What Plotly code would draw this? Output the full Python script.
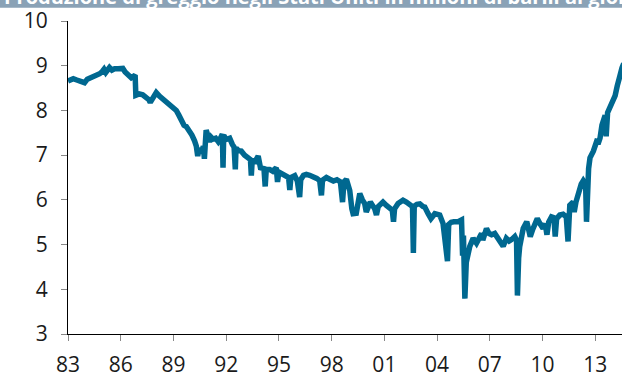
import plotly.graph_objects as go

# Decimal year positions and US crude oil production (million barrels per day)
years = [
    1983.00, 1983.15, 1983.30, 1983.50, 1983.70, 1983.94, 1984.10, 1984.35, 1984.60, 1984.80,
    1984.95, 1985.05, 1985.15, 1985.25, 1985.36, 1985.50, 1985.65, 1985.85, 1986.00, 1986.12,
    1986.25, 1986.40, 1986.60, 1986.75, 1986.82, 1986.86, 1987.05, 1987.25, 1987.45, 1987.60,
    1987.68, 1987.80, 1988.02, 1988.20, 1988.40, 1988.60, 1988.78, 1989.00, 1989.16, 1989.30,
    1989.44, 1989.60, 1989.73, 1989.90, 1990.05, 1990.20, 1990.30, 1990.38, 1990.45, 1990.58,
    1990.70, 1990.76, 1990.86, 1990.95, 1991.05, 1991.15, 1991.25, 1991.40, 1991.55, 1991.65,
    1991.78, 1991.82, 1991.86, 1992.00, 1992.20, 1992.35, 1992.45, 1992.52, 1992.56, 1992.70,
    1992.86, 1993.05, 1993.20, 1993.38, 1993.43, 1993.48, 1993.65, 1993.82, 1993.95, 1994.15,
    1994.22, 1994.28, 1994.47, 1994.65, 1994.85, 1994.92, 1995.00, 1995.20, 1995.40, 1995.55,
    1995.62, 1995.68, 1995.90, 1996.05, 1996.18, 1996.24, 1996.40, 1996.56, 1996.75, 1996.95,
    1997.15, 1997.32, 1997.42, 1997.48, 1997.70, 1997.89, 1998.10, 1998.30, 1998.50, 1998.62,
    1998.70, 1998.84, 1999.03, 1999.15, 1999.22, 1999.40, 1999.60, 1999.75, 1999.88, 1999.97,
    2000.10, 2000.20, 2000.45, 2000.55, 2000.65, 2000.92, 2001.10, 2001.30, 2001.45, 2001.52,
    2001.58, 2001.78, 2002.06, 2002.25, 2002.45, 2002.60, 2002.65, 2002.70, 2002.85, 2003.02,
    2003.20, 2003.30, 2003.49, 2003.65, 2003.87, 2004.15, 2004.34, 2004.45, 2004.59, 2004.66,
    2004.80, 2004.95, 2005.20, 2005.39, 2005.45, 2005.50, 2005.58, 2005.66, 2005.77, 2005.86,
    2006.05, 2006.24, 2006.40, 2006.53, 2006.60, 2006.81, 2006.95, 2007.10, 2007.28, 2007.45,
    2007.57, 2007.76, 2007.94, 2008.10, 2008.23, 2008.42, 2008.52, 2008.57, 2008.64, 2008.70,
    2008.90, 2009.10, 2009.20, 2009.30, 2009.45, 2009.57, 2009.70, 2009.85, 2010.03, 2010.15,
    2010.25, 2010.35, 2010.51, 2010.65, 2010.72, 2010.80, 2010.98, 2011.17, 2011.35, 2011.45,
    2011.50, 2011.55, 2011.74, 2011.80, 2011.90, 2012.03, 2012.20, 2012.32, 2012.45, 2012.50,
    2012.56, 2012.62, 2012.70, 2012.89, 2013.08, 2013.20, 2013.27, 2013.38, 2013.56, 2013.62,
    2013.70, 2013.85, 2014.00, 2014.13, 2014.25, 2014.32, 2014.40, 2014.52, 2014.62,
]
production = [
    8.66, 8.70, 8.71, 8.68, 8.66, 8.62, 8.70, 8.74, 8.78, 8.82,
    8.87, 8.92, 8.85, 8.93, 8.96, 8.90, 8.93, 8.93, 8.94, 8.94,
    8.86, 8.80, 8.73, 8.77, 8.79, 8.34, 8.37, 8.35, 8.29, 8.24,
    8.18, 8.28, 8.40, 8.32, 8.26, 8.20, 8.15, 8.06, 8.00, 7.90,
    7.78, 7.67, 7.64, 7.55, 7.45, 7.32, 7.20, 6.98, 7.15, 7.05,
    7.20, 6.92, 7.56, 7.45, 7.30, 7.40, 7.36, 7.38, 7.30, 7.36,
    7.47, 6.72, 7.44, 7.35, 7.38, 7.24, 7.18, 6.68, 7.16, 7.10,
    7.09, 7.00, 6.94, 6.90, 6.54, 6.88, 6.86, 6.98, 6.72, 6.70,
    6.30, 6.68, 6.68, 6.64, 6.72, 6.40, 6.62, 6.58, 6.55, 6.50,
    6.22, 6.50, 6.54, 6.42, 6.06, 6.45, 6.55, 6.57, 6.55, 6.53,
    6.48, 6.43, 6.10, 6.44, 6.50, 6.46, 6.42, 6.45, 6.40, 5.95,
    6.40, 6.46, 6.21, 5.80, 5.69, 5.70, 6.14, 6.00, 5.92, 5.73,
    5.92, 5.95, 5.80, 5.66, 5.85, 5.95, 5.88, 5.82, 5.77, 5.51,
    5.80, 5.92, 5.99, 5.95, 5.88, 5.85, 4.81, 5.86, 5.90, 5.91,
    5.85, 5.84, 5.69, 5.58, 5.69, 5.66, 5.47, 5.11, 4.63, 5.45,
    5.50, 5.51, 5.51, 5.55, 4.75, 5.20, 3.79, 4.60, 4.81, 4.96,
    5.14, 5.03, 5.15, 5.25, 5.10, 5.36, 5.25, 5.22, 5.25, 5.15,
    5.11, 4.96, 5.14, 5.08, 5.11, 5.18, 5.10, 3.86, 4.70, 4.96,
    5.36, 5.51, 5.35, 5.18, 5.35, 5.47, 5.58, 5.47, 5.36, 5.47,
    5.22, 5.50, 5.62, 5.60, 5.18, 5.58, 5.66, 5.68, 5.62, 5.07,
    5.70, 5.88, 5.95, 5.73, 5.95, 6.14, 6.35, 6.43, 6.35, 5.51,
    6.50, 6.70, 6.94, 7.09, 7.31, 7.30, 7.38, 7.67, 7.89, 7.42,
    7.95, 8.11, 8.25, 8.33, 8.55, 8.62, 8.77, 8.95, 9.05,
]

x_tickvals = [1983, 1986, 1989, 1992, 1995, 1998, 2001, 2004, 2007, 2010, 2013]
x_ticktext = ["83", "86", "89", "92", "95", "98", "01", "04", "07", "10", "13"]
y_tickvals = [3, 4, 5, 6, 7, 8, 9, 10]

title_text = "Produzione di greggio negli Stati Uniti in milioni di barili al giorno"

FONT = "Open Sans"
TICK_SIZE = 21

fig = go.Figure()
fig.add_trace(go.Scatter(
    x=years, y=production, mode="lines",
    line=dict(color="#006890", width=5.5, shape="linear"),
    hoverinfo="skip", showlegend=False,
))

H_PLOT = 378 - 21 - 39
W_PLOT = 622 - 68

fig.update_layout(
    width=622, height=378,
    margin=dict(l=68, r=0, t=21, b=39, pad=0),
    paper_bgcolor="white", plot_bgcolor="white",
    font=dict(family=FONT, size=TICK_SIZE, color="#1a1a1a"),
    xaxis=dict(
        range=[1983, 2014.52], tickvals=x_tickvals, ticktext=x_ticktext,
        showgrid=False, zeroline=False, showline=True, linecolor="black", linewidth=1.3,
        ticks="outside", ticklen=6, tickcolor="#888888", tickwidth=1,
        ticklabelstandoff=6,
        tickfont=dict(family=FONT, size=TICK_SIZE, color="#1a1a1a"),
    ),
    yaxis=dict(
        range=[3, 10], tickvals=y_tickvals,
        showgrid=False, zeroline=False, showline=True, linecolor="black", linewidth=1.3,
        ticks="outside", ticklen=6, tickcolor="#888888", tickwidth=1,
        ticklabelstandoff=9,
        tickfont=dict(family=FONT, size=TICK_SIZE, color="#1a1a1a"),
    ),
    shapes=[dict(
        type="rect", xref="paper", yref="paper",
        x0=-68 / W_PLOT, x1=1.0, y0=1 + (21 - 7.5) / H_PLOT, y1=1 + 30 / H_PLOT,
        fillcolor="#8aa2b6", line=dict(width=0), layer="above",
    )],
    annotations=[dict(
        text="<b>" + title_text + "</b>", xref="paper", yref="paper",
        x=-66 / W_PLOT, y=1 + 9 / H_PLOT, xanchor="left", yanchor="bottom",
        showarrow=False, font=dict(family=FONT, size=20, color="white"),
    )],
)

fig.write_html(
    "out.html",
    config={"displayModeBar": False},
    post_script="document.body.style.margin='0';document.body.style.padding='0';",
)
